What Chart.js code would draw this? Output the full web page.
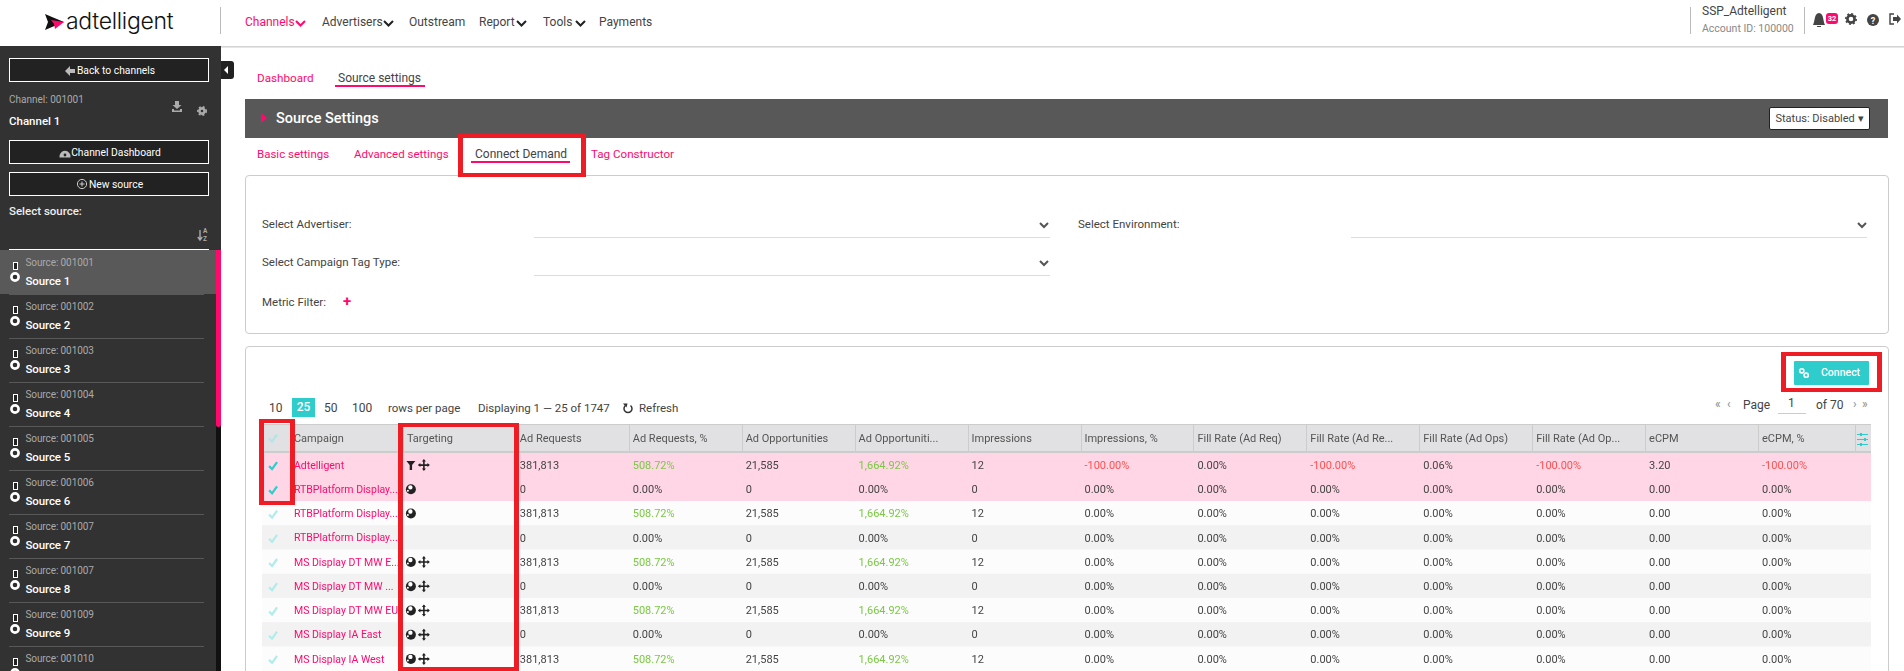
<!DOCTYPE html>
<html>
<head>
<meta charset="utf-8">
<title>Source Settings</title>
<script src="https://cdn.jsdelivr.net/npm/chart.js@4/dist/chart.umd.js"></script>
<style>
  html, body { margin: 0; width: 1904px; height: 671px; overflow: hidden; background: #fff; font-family: Roboto, sans-serif; color: #444; }
  .t { position: absolute; white-space: nowrap; height: 20px; line-height: 20px; }
  .box { position: absolute; box-sizing: border-box; }
  .sidebtn { position: absolute; left: 9px; width: 200px; height: 24px; box-sizing: border-box; border: 1px solid #fff; background: #222; color: #fff; font-size: 10.3px; line-height: 24px; text-align: center; }
  .redbox { position: absolute; box-sizing: border-box; border: solid #ee1c25; border-width: 4px 5px; z-index: 5; }
  svg.i { position: absolute; overflow: visible; z-index: 2; }
  #tableWrap { position: absolute; left: 262px; top: 424px; width: 1609px; height: 247px; }
</style>
</head>
<body>
<div id="page"></div>
<div id="tableWrap"><canvas id="connectTable"></canvas></div>

<script>
document.addEventListener('DOMContentLoaded', () => {
  const page = document.getElementById('page');
  const PINK = '#ff0a6c';

  function text(x, y, str, size, color, weight, extra) {
    const el = document.createElement('div');
    el.className = 't';
    el.textContent = str;
    el.style.cssText = `left:${x}px;top:${y - 10}px;font-size:${size}px;color:${color};font-weight:${weight || 400};${extra || ''}`;
    page.appendChild(el);
  }
  function box(x, y, w, h, css) {
    const el = document.createElement('div');
    el.className = 'box';
    el.style.cssText = `left:${x}px;top:${y}px;width:${w}px;height:${h}px;${css}`;
    page.appendChild(el);
    return el;
  }
  function icon(x, y, body) {
    page.insertAdjacentHTML('beforeend', `<svg class="i" style="left:${x}px;top:${y}px" width="1" height="1">${body}</svg>`);
  }
  function chevron(x, y, color, w) {
    icon(x, y, `<polyline points="0,0 ${w / 2},${w / 2} ${w},0" fill="none" stroke="${color}" stroke-width="2"/>`);
  }
  const gear = (c) => `<circle r="3.6" fill="none" stroke="${c}" stroke-width="2.6"/><circle r="5.2" fill="none" stroke="${c}" stroke-width="1.6" stroke-dasharray="2 2"/>`;

  // header
  box(0, 46, 1904, 2, 'background:linear-gradient(#ccc,#eee)');
  icon(45, 14, `<polygon points="0,0 7,3 19,8 7,13 0,16 3,8" fill="#111"/><polygon points="6,6 19,8 10,15 9,10" fill="${PINK}"/>`);
  text(66, 21, 'adtelligent', 23, '#111', 300, 'font-family:Inter;letter-spacing:-0.3px');
  box(220, 7, 1, 27, 'background:#bbb');

  const nav = [['Channels', 245, true, 296], ['Advertisers', 322, true, 384], ['Outstream', 409], ['Report', 479, true, 517], ['Tools', 543, true, 576], ['Payments', 599]];
  nav.forEach(([label, x, caret, cx], i) => {
    text(x, 22, label, 12, i === 0 ? PINK : '#444');
    if (caret) chevron(cx, 21, i === 0 ? PINK : '#222', 9);
  });

  box(1690, 7, 1, 27, 'background:#bbb');
  text(1702, 11, 'SSP_Adtelligent', 12, '#444');
  text(1702, 29, 'Account ID: 100000', 10.5, '#888');
  box(1804, 7, 1, 27, 'background:#bbb');
  icon(1819, 19, '<path d="M-6,6 C-4,3 -5,-6 0,-6 C5,-6 4,3 6,6 Z M-2,7 H2 V8 H-2Z" fill="#444"/>');
  box(1826, 13, 12, 11, `background:${PINK};border-radius:3px;color:#fff;font-size:7.5px;font-weight:700;line-height:11px;text-align:center`).textContent = '32';
  icon(1851, 19, gear('#444'));
  icon(1873, 20, '<circle r="6" fill="#444"/><text x="0" y="3.5" font-size="9" font-weight="700" fill="#fff" text-anchor="middle">?</text>');
  icon(1889, 14, '<path d="M5,0 H1 V10 H5" fill="none" stroke="#444" stroke-width="1.4"/><path d="M4,3 H8 V0.5 L12,5 L8,9.5 V7 H4Z" fill="#444"/>');

  // sidebar
  box(0, 46, 221, 625, 'background:#323232');
  box(216, 250, 5, 421, 'background:#111');
  box(216, 250, 5, 177, `background:${PINK};border-radius:0 0 3px 3px`);
  box(221, 61, 13, 18, 'background:#222;border-radius:0 3px 3px 0');
  icon(224, 70, '<polygon points="0,0 4,-4 4,4" fill="#fff"/>');

  [['Back to channels', 58], ['Channel Dashboard', 140], ['New source', 172]].forEach(([label, y]) => {
    const btn = document.createElement('div');
    btn.className = 'sidebtn';
    btn.style.top = y + 'px';
    btn.style.paddingLeft = '14px';
    btn.textContent = label;
    page.appendChild(btn);
  });
  icon(71, 71, '<polygon points="-6,0 -1,-5 -1,-2 4,-2 4,2 -1,2 -1,5" fill="#bbb"/>');
  icon(65, 154, '<path d="M-5.5,3.5 A5.6,5.6 0 1 1 5.5,3.5 Z" fill="#bbb"/><circle cy="1" r="1.4" fill="#222"/>');
  icon(82, 184, '<circle r="4.6" fill="none" stroke="#ccc" stroke-width="1"/><path d="M-2.5,0 H2.5 M0,-2.5 V2.5" stroke="#ccc" stroke-width="1"/>');
  text(9, 100, 'Channel: 001001', 10, '#aaa');
  text(9, 121, 'Channel 1', 11.5, '#fff', 500);
  icon(177, 106, '<path d="M-2,-5 H2 V-1 H4.5 L0,3 L-4.5,-1 H-2Z M-5,3 H-3 V4.5 H3 V3 H5 V6 H-5Z" fill="#aaa"/>');
  icon(202, 111, gear('#aaa').replace('r="3.6"', 'r="2.6"').replace('r="5.2"', 'r="4.2"'));
  text(9, 211, 'Select source:', 11.5, '#eee', 500);
  icon(200, 231, '<path d="M0,-1 V9 M-2.2,6 L0,9 L2.2,6" fill="none" stroke="#aaa" stroke-width="1.4"/>');
  text(203, 231, 'A', 6.5, '#aaa', 700);
  text(203, 239, 'Z', 6.5, '#aaa', 700);
  box(9, 249, 200, 1, 'background:#fff');

  const sources = [
    ['001001', 'Source 1'], ['001002', 'Source 2'], ['001003', 'Source 3'], ['001004', 'Source 4'], ['001005', 'Source 5'],
    ['001006', 'Source 6'], ['001007', 'Source 7'], ['001007', 'Source 8'], ['001009', 'Source 9'], ['001010', 'Source 10']
  ];
  sources.forEach(([id, name], i) => {
    const top = 250 + i * 44;
    if (i === 0) box(0, top, 216, 44, 'background:#595959');
    box(9, top + 44, 195, 1, 'background:#585858');
    box(13, top + 12, 5, 8, 'border:1.5px solid #fff;background:#222');
    icon(15, top + 27, '<circle r="3.6" fill="#2e2e2e" stroke="#fff" stroke-width="2.6"/>');
    text(25.5, top + 13, 'Source: ' + id, 10, '#aaa', 400, 'letter-spacing:-0.1px');
    text(25.5, top + 31, name, 11.5, '#fff', 500, 'letter-spacing:-0.1px');
  });

  // page tabs
  text(257, 78, 'Dashboard', 11.7, PINK);
  text(338, 78, 'Source settings', 12, '#444');
  box(335, 85, 90, 2, `background:${PINK}`);

  box(245, 99, 1643, 39, 'background:#585858');
  icon(261, 113, `<polygon points="0,0 6,5 0,10" fill="${PINK}"/>`);
  text(276, 119, 'Source Settings', 14.5, '#fff', 500);
  box(1769, 107, 101, 23, 'background:#fff;border:1px solid #222;border-radius:2px;color:#444;font-size:11px;line-height:21px;text-align:center').textContent = 'Status: Disabled \u25BE';

  text(257, 154, 'Basic settings', 11.5, PINK);
  text(354, 154, 'Advanced settings', 11.5, PINK);
  text(475, 154, 'Connect Demand', 12, '#444');
  box(471, 161, 99, 2, `background:${PINK}`);
  text(591, 154, 'Tag Constructor', 11.6, PINK);

  // filter card
  box(245, 175, 1644, 159, 'border:1px solid #ccc;border-radius:4px');
  text(262, 224, 'Select Advertiser:', 11.5, '#444');
  text(262, 262, 'Select Campaign Tag Type:', 11.5, '#444');
  text(262, 302, 'Metric Filter:', 11.5, '#444');
  text(1078, 224, 'Select Environment:', 11.5, '#444');
  text(343, 301, '+', 15, PINK, 700);
  [[534, 237, 516, 1040, 223], [534, 275, 516, 1040, 261], [1351, 237, 516, 1858, 223]].forEach(([x, y, w, cx, cy]) => {
    box(x, y, w, 1, 'background:#ddd');
    chevron(cx, cy, '#555', 8);
  });

  // demand card
  box(245, 346, 1644, 340, 'border:1px solid #ccc;border-radius:4px');
  box(1794, 361, 75, 24, 'background:#2fcccc;border-radius:1px;color:#fff;font-size:10.5px;font-weight:500;line-height:24px;text-indent:27px').textContent = 'Connect';
  icon(1804, 373, '<g fill="none" stroke="#fff" stroke-width="1.6"><circle cx="-2.2" cy="-2.2" r="2.1"/><circle cx="2.2" cy="2.2" r="2.1"/></g>');

  text(269, 408, '10', 12, '#444');
  box(292, 398, 23, 19, 'background:#2fcccc;color:#fff;font-size:12px;font-weight:500;line-height:19px;text-align:center').textContent = '25';
  text(324, 408, '50', 12, '#444');
  text(352, 408, '100', 12, '#444');
  text(388, 408, 'rows per page', 11.5, '#444');
  text(478, 408, 'Displaying 1 \u2014 25 of 1747', 11.5, '#444');
  icon(628, 409, '<path d="M-2.5,-3.5 A4,4 0 1 0 2.5,-3.5" fill="none" stroke="#333" stroke-width="1.5"/><polygon points="-5,-5.5 -0.5,-5.5 -1.5,-1.5" fill="#333"/>');
  text(639, 408, 'Refresh', 11.5, '#444');

  text(1715, 404, '\u00AB', 12, '#888');
  text(1727, 404, '\u2039', 12, '#888');
  text(1743, 405, 'Page', 12, '#444');
  text(1788, 403, '1', 12, '#444');
  box(1778, 413, 28, 1, 'background:#ccc');
  text(1816, 405, 'of 70', 12, '#444');
  text(1853, 404, '\u203A', 12, '#888');
  text(1862, 404, '\u00BB', 12, '#888');

  // red highlight boxes
  [[458, 134, 128, 43], [1781, 352, 101, 40], [259, 419, 36, 86], [398, 423, 121, 248]].forEach(([x, y, w, h]) => {
    const el = box(x, y, w, h, '');
    el.className = 'redbox';
  });

  // table data
  const headers = ['Campaign', 'Targeting', 'Ad Requests', 'Ad Requests, %', 'Ad Opportunities', 'Ad Opportuniti...', 'Impressions', 'Impressions, %',
    'Fill Rate (Ad Req)', 'Fill Rate (Ad Re...', 'Fill Rate (Ad Ops)', 'Fill Rate (Ad Op...', 'eCPM', 'eCPM, %'];
  const rows = [
    { name: 'Adtelligent', marks: ['filter', 'move'], picked: true, cells: ['381,813', '508.72%', '21,585', '1,664.92%', '12', '-100.00%', '0.00%', '-100.00%', '0.06%', '-100.00%', '3.20', '-100.00%'] },
    { name: 'RTBPlatform Display...', marks: ['globe'], picked: true, cells: ['0', '0.00%', '0', '0.00%', '0', '0.00%', '0.00%', '0.00%', '0.00%', '0.00%', '0.00', '0.00%'] },
    { name: 'RTBPlatform Display...', marks: ['globe'], cells: ['381,813', '508.72%', '21,585', '1,664.92%', '12', '0.00%', '0.00%', '0.00%', '0.00%', '0.00%', '0.00', '0.00%'] },
    { name: 'RTBPlatform Display...', marks: [], cells: ['0', '0.00%', '0', '0.00%', '0', '0.00%', '0.00%', '0.00%', '0.00%', '0.00%', '0.00', '0.00%'] },
    { name: 'MS Display DT MW E...', marks: ['globe', 'move'], cells: ['381,813', '508.72%', '21,585', '1,664.92%', '12', '0.00%', '0.00%', '0.00%', '0.00%', '0.00%', '0.00', '0.00%'] },
    { name: 'MS Display DT MW ...', marks: ['globe', 'move'], cells: ['0', '0.00%', '0', '0.00%', '0', '0.00%', '0.00%', '0.00%', '0.00%', '0.00%', '0.00', '0.00%'] },
    { name: 'MS Display DT MW EU', marks: ['globe', 'move'], cells: ['381,813', '508.72%', '21,585', '1,664.92%', '12', '0.00%', '0.00%', '0.00%', '0.00%', '0.00%', '0.00', '0.00%'] },
    { name: 'MS Display IA East', marks: ['globe', 'move'], cells: ['0', '0.00%', '0', '0.00%', '0', '0.00%', '0.00%', '0.00%', '0.00%', '0.00%', '0.00', '0.00%'] },
    { name: 'MS Display IA West', marks: ['globe', 'move'], cells: ['381,813', '508.72%', '21,585', '1,664.92%', '12', '0.00%', '0.00%', '0.00%', '0.00%', '0.00%', '0.00', '0.00%'] }
  ];

  const COL_MIN = -0.248;
  const COL_MAX = 14;
  const TEXT_INSET = 0.035;
  const HEADER_H = 29;

  function rowColor(row, i) {
    if (row.picked) return '#ffd6e5';
    return i % 2 === 0 ? '#fcfcfc' : '#f2f2f2';
  }
  function cellColor(value, col) {
    if (value.startsWith('-')) return '#ff5050';
    if ((col === 1 || col === 3) && value !== '0.00%') return '#7ac943';
    return '#444';
  }

  function drawCheck(ctx, x, y, color) {
    ctx.strokeStyle = color;
    ctx.lineWidth = 2.2;
    ctx.beginPath();
    ctx.moveTo(x - 4, y);
    ctx.lineTo(x - 1, y + 3);
    ctx.lineTo(x + 4, y - 4);
    ctx.stroke();
  }
  function drawMark(ctx, kind, x, y) {
    ctx.fillStyle = '#222';
    ctx.strokeStyle = '#222';
    if (kind === 'globe') {
      ctx.beginPath();
      ctx.arc(x, y, 5, 0, Math.PI * 2);
      ctx.fill();
      ctx.fillStyle = '#fff';
      ctx.beginPath();
      ctx.arc(x - 0.5, y - 2, 2.2, 0, Math.PI * 2);
      ctx.arc(x - 3, y + 1.5, 1, 0, Math.PI * 2);
      ctx.fill();
    } else if (kind === 'filter') {
      ctx.beginPath();
      ctx.moveTo(x - 4.5, y - 4);
      ctx.lineTo(x + 4.5, y - 4);
      ctx.lineTo(x + 1.2, y);
      ctx.lineTo(x + 1.2, y + 5);
      ctx.lineTo(x - 1.2, y + 5);
      ctx.lineTo(x - 1.2, y);
      ctx.closePath();
      ctx.fill();
    } else {
      ctx.lineWidth = 1.6;
      ctx.beginPath();
      ctx.moveTo(x - 5, y);
      ctx.lineTo(x + 5, y);
      ctx.moveTo(x, y - 5);
      ctx.lineTo(x, y + 5);
      ctx.stroke();
      [[1, 0], [-1, 0], [0, 1], [0, -1]].forEach(([dx, dy]) => {
        ctx.beginPath();
        ctx.moveTo(x + dx * 6, y + dy * 6);
        ctx.lineTo(x + dx * 3.5 + dy * 2, y + dy * 3.5 + dx * 2);
        ctx.lineTo(x + dx * 3.5 - dy * 2, y + dy * 3.5 - dx * 2);
        ctx.closePath();
        ctx.fill();
      });
    }
  }

  const headerBand = {
    id: 'headerBand',
    beforeDraw(chart) {
      const { ctx, chartArea, scales } = chart;
      ctx.save();
      ctx.fillStyle = '#e1e1e3';
      ctx.fillRect(chartArea.left, 0, chartArea.right - chartArea.left, HEADER_H);
      ctx.fillStyle = '#ccc';
      ctx.fillRect(chartArea.left, 0, chartArea.right - chartArea.left, 1);
      ctx.fillRect(chartArea.left, HEADER_H - 2, chartArea.right - chartArea.left, 2);
      for (let c = 0; c < headers.length; c++) {
        const px = Math.round(scales.x.getPixelForValue(c));
        ctx.fillRect(px, 1, 1, HEADER_H - 3);
      }
      ctx.fillRect(Math.round(scales.x.getPixelForValue(13.86)), 1, 1, HEADER_H - 3);
      ctx.restore();
    }
  };

  const cellText = {
    id: 'cellText',
    afterDatasetsDraw(chart) {
      const { ctx, scales } = chart;
      const xs = scales.x;
      const ys = scales.y;
      ctx.save();
      ctx.textBaseline = 'middle';
      ctx.textAlign = 'left';
      drawCheck(ctx, xs.getPixelForValue(-0.15), 14.5, '#b4e4e6');
      rows.forEach((row, r) => {
        const y = ys.getPixelForValue(r) + 1;
        drawCheck(ctx, xs.getPixelForValue(-0.15), y, row.picked ? '#2fcccc' : '#b0ecec');
        ctx.font = '10.5px Roboto';
        ctx.fillStyle = PINK;
        ctx.fillText(row.name, xs.getPixelForValue(TEXT_INSET), y);
        row.marks.forEach((kind, m) => {
          drawMark(ctx, kind, xs.getPixelForValue(1 + TEXT_INSET) + 4 + m * 13, y - 1);
        });
        ctx.font = '11px Roboto';
        row.cells.forEach((value, c) => {
          ctx.fillStyle = cellColor(value, c);
          ctx.fillText(value, xs.getPixelForValue(c + 2 + TEXT_INSET), y);
        });
      });
      // column settings icon
      const ix = Math.round(xs.getPixelForValue(13.88));
      ctx.fillStyle = '#2fcccc';
      [10, 15, 20].forEach((y) => ctx.fillRect(ix, y, 11, 1));
      [[3, 9], [7, 14], [3, 19]].forEach(([dx, y]) => ctx.fillRect(ix + dx, y, 2, 3));
      ctx.restore();
    }
  };

  const tableCtx = document.getElementById('connectTable').getContext('2d');
  const tableChart = new Chart(tableCtx, {
    type: 'bar',
    data: {
      labels: rows.map((row, i) => i),
      datasets: [{
        data: rows.map(() => [COL_MIN, COL_MAX]),
        backgroundColor: rows.map(rowColor),
        borderWidth: 0,
        barPercentage: 1,
        categoryPercentage: 1
      }]
    },
    options: {
      indexAxis: 'y',
      responsive: true,
      maintainAspectRatio: false,
      animation: false,
      layout: { padding: 0 },
      scales: {
        x: {
          type: 'linear',
          position: 'top',
          min: COL_MIN,
          max: COL_MAX,
          grid: { display: false, drawTicks: false },
          border: { display: false },
          afterBuildTicks(scale) {
            scale.ticks = headers.map((h, i) => ({ value: i + TEXT_INSET }));
          },
          afterFit(scale) {
            scale.height = HEADER_H;
          },
          ticks: {
            autoSkip: false,
            maxRotation: 0,
            align: 'start',
            padding: 7,
            color: '#555',
            font: { family: 'Roboto', size: 11 },
            callback: (value, index) => headers[index]
          }
        },
        y: {
          type: 'category',
          display: false
        }
      },
      plugins: {
        legend: { display: false },
        tooltip: { enabled: false }
      }
    },
    plugins: [headerBand, cellText]
  });
});
</script>
</body>
</html>
